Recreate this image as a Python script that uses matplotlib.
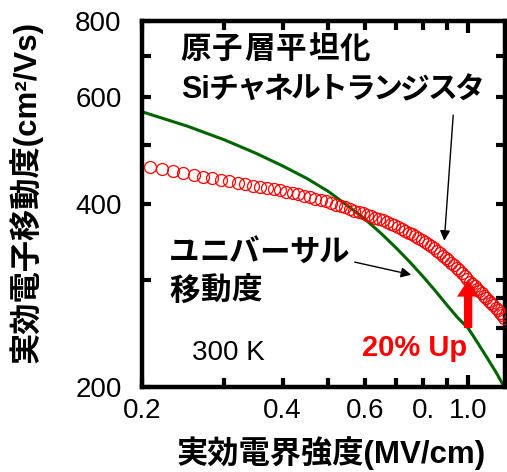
import matplotlib
matplotlib.use('Agg')
import matplotlib.pyplot as plt
from matplotlib.ticker import FixedLocator, FixedFormatter, NullFormatter, NullLocator

# measured mobility of the flattened-Si channel (open circles)
red_x = [0.2075, 0.22, 0.2325, 0.245, 0.2575, 0.27, 0.2825, 0.295, 0.3075, 0.32,
         0.3325, 0.345, 0.3575, 0.37, 0.3825, 0.395, 0.4075, 0.42, 0.4325, 0.445,
         0.4575, 0.47, 0.4825, 0.495, 0.5075, 0.52, 0.5325, 0.545, 0.5575, 0.57,
         0.5825, 0.595, 0.6075, 0.62, 0.6325, 0.645, 0.6575, 0.67, 0.6825, 0.695,
         0.7075, 0.72, 0.7325, 0.745, 0.7575, 0.77, 0.7825, 0.795, 0.8075, 0.82,
         0.8325, 0.845, 0.8575, 0.87, 0.8825, 0.895, 0.9075, 0.92, 0.9325, 0.945,
         0.9575, 0.97, 0.9825, 0.995, 1.0075, 1.02, 1.0325, 1.045, 1.0575, 1.07,
         1.0825, 1.095, 1.1075, 1.12, 1.1325, 1.145, 1.1575, 1.17, 1.1825, 1.195]
red_y = [460, 456, 453, 449, 446, 443, 441, 438, 436, 433,
         431, 429, 427, 425, 423, 421, 419, 417, 415, 413,
         411, 408, 406, 404, 402, 399, 397, 395, 393, 390,
         388, 386, 384, 382, 380, 378, 376, 373, 371, 369,
         366.5, 364, 361.5, 359, 356.5, 354, 351.5, 349, 346, 343.5,
         341, 338, 335, 332, 329, 326, 323, 320, 317, 314,
         311, 308, 304, 301, 298, 295.5, 293, 290, 287.5, 285,
         282.5, 280, 277.5, 275, 272.5, 270, 267.5, 265, 262.5, 260]

# universal mobility curve
univ_x = [0.2, 0.25, 0.3, 0.35, 0.4, 0.45, 0.5, 0.55, 0.6, 0.65, 0.7,
          0.75, 0.8, 0.85, 0.9, 0.95, 1.0, 1.05, 1.1, 1.15, 1.2]
univ_y = [567, 537, 510, 485, 462, 441, 420, 398, 378, 358, 339,
          321, 304, 288, 273, 260, 250, 236, 223, 211, 199]

# 20% improvement at 1.0 MV/cm
up_x = 1.0
up_from = 250
up_to = 300

x_minor = [0.2, 0.3, 0.4, 0.5, 0.6, 0.7, 0.8, 0.9]
x_minor_labels = ['0.2', '', '0.4', '', '0.6', '', '0.', '']
y_major = [200, 400, 600, 800]
y_minor = [300, 500, 700]
y_right = [225, 250, 280, 300, 400, 500, 600, 700]

W, H = 507, 472
JP = ['Liberation Sans', 'Noto Sans CJK JP']

fig = plt.figure(figsize=(W / 100, H / 100), dpi=100)
ax = fig.add_axes([142.4 / W, 85 / H, 362.6 / W, 366 / H])

ax.plot(univ_x, univ_y, color='#006400', lw=2.2, zorder=2)
ax.plot(red_x, red_y, 'o', ms=8.6, mfc='none', mec='#ff0000', mew=0.9, zorder=3)

ax.set_xscale('log')
ax.set_yscale('log')
ax.set_xlim(0.2, 1.2)
ax.set_ylim(200, 800)

ax.xaxis.set_major_locator(FixedLocator([1.0]))
ax.xaxis.set_major_formatter(FixedFormatter(['1.0']))
ax.xaxis.set_minor_locator(FixedLocator(x_minor))
ax.xaxis.set_minor_formatter(FixedFormatter(x_minor_labels))
ax.yaxis.set_major_locator(FixedLocator(y_major))
ax.yaxis.set_major_formatter(FixedFormatter([str(v) for v in y_major]))
ax.yaxis.set_minor_locator(FixedLocator(y_minor))
ax.yaxis.set_minor_formatter(NullFormatter())

ax.tick_params(axis='both', which='both', direction='in', width=3, color='black',
               labelsize=20, top=True, right=False)
ax.tick_params(axis='x', which='major', length=8.6, pad=8)
ax.tick_params(axis='x', which='minor', length=6.2, pad=8)
ax.tick_params(axis='y', which='both', length=6.2, pad=15)
for lab in ax.get_xticklabels(which='both') + ax.get_yticklabels():
    lab.set_family('Liberation Sans')
for s in ax.spines.values():
    s.set_linewidth(3.2)

# right-hand ticks
ax2 = ax.twinx()
ax2.set_yscale('log')
ax2.set_ylim(200, 800)
ax2.yaxis.set_major_locator(FixedLocator(y_right))
ax2.yaxis.set_major_formatter(NullFormatter())
ax2.yaxis.set_minor_locator(NullLocator())
ax2.tick_params(axis='y', direction='in', length=6.2, width=3, right=True)
for s in ax2.spines.values():
    s.set_visible(False)

# red arrow: 20% up
ax.annotate('', xy=(up_x, up_to), xytext=(up_x, up_from), zorder=5,
            arrowprops=dict(arrowstyle='simple,head_length=1.2,head_width=1.6,tail_width=0.6',
                            mutation_scale=10, color='#ff0000', lw=0,
                            shrinkA=0, shrinkB=0))
fig.text(415 / W, 1 - 348 / H, '20% Up', fontsize=21, fontweight='bold',
         color='#ff0000', family='Liberation Sans', ha='center', va='center')

# pointer arrows to the two curves
thin = dict(arrowstyle='-|>,head_length=0.6,head_width=0.3', mutation_scale=10,
            color='black', lw=1.0, shrinkA=0, shrinkB=0)
ax.annotate('', xy=(0.889, 348), xytext=(0.929, 560), arrowprops=thin)
ax.annotate('', xy=(0.755, 306), xytext=(0.571, 321), arrowprops=thin)


def spaced(x0, y0, chars, pitch, size=22):
    # place characters one by one with a fixed pitch (pixel coordinates)
    for i, ch in enumerate(chars):
        fig.text((x0 + i * pitch) / W, 1 - y0 / H, ch, ha='left', va='center',
                 fontsize=size, fontweight='bold', family=JP)


spaced(180, 50, '原子層平坦化', 32)
fig.text(181 / W, 1 - 90 / H, 'Si', ha='left', va='center', fontsize=22,
         fontweight='bold', family=JP)
spaced(209, 90, 'チャネルトランジスタ', 27.3, size=21.5)
spaced(169, 253, 'ユニバーサル', 30)
spaced(169, 292, '移動度', 31)

fig.text(228 / W, 1 - 353 / H, '300 K', ha='center', va='center', fontsize=20,
         family='Liberation Sans')

fig.text(26 / W, 1 - 192 / H, '実効電子移動度(cm²/Vs)', rotation=90, ha='center',
         va='center', fontsize=22.5, fontweight='bold', family=JP)
fig.text(331 / W, 1 - 453 / H, '実効電界強度(MV/cm)', ha='center', va='center',
         fontsize=22.5, fontweight='bold', family=JP)

fig.savefig('out.png', dpi=100)
